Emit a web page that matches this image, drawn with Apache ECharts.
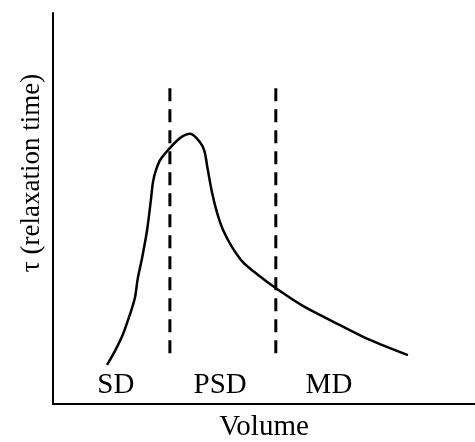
<!DOCTYPE html>
<html>
<head>
<meta charset="utf-8">
<style>
  html, body { margin: 0; padding: 0; background: #fff; }
  #chart { width: 475px; height: 442px; }
</style>
<script src="https://cdn.jsdelivr.net/npm/echarts@6/dist/echarts.min.js"></script>
</head>
<body>
<div id="chart"></div>
<script>
// Relaxation time vs. volume curve (arbitrary units, 0–100 on both axes)
const curveX = [12.8, 14.7, 16.6, 18.2, 19.4, 20.1, 21.1, 22.3, 23.2, 23.7, 24.4, 25.4, 27.3, 30.1, 32.5, 34.8, 35.9, 36.6, 37.7, 38.9, 40.3, 42.4, 45.0, 48.6, 53.1, 59.2, 68.0, 75.1, 84.1];
const curveY = [10.0, 13.6, 17.9, 22.8, 27.1, 32.2, 37.3, 44.5, 52.2, 56.8, 59.8, 62.4, 65.0, 68.0, 69.1, 67.0, 64.6, 60.4, 54.0, 48.8, 44.5, 40.2, 36.3, 33.0, 29.4, 25.1, 20.2, 16.4, 12.5];

// Region boundaries (volume) and vertical extent of the dashed separators
const boundaryX = [27.7, 52.8];
const boundaryY = [13.0, 80.8];

// Region names and where they sit along the volume axis
const regionNames = ['SD', 'PSD', 'MD'];
const regionX = [14.9, 39.6, 65.4];
const regionY = [4.8, 4.8, 4.8];

const axisNames = { x: 'Volume', y: 'τ (relaxation time)' };

const serif = '"Liberation Serif", "DejaVu Serif", serif';

const curveData = curveX.map((x, i) => [x, curveY[i]]);

const boundarySeries = boundaryX.map(x => ({
  type: 'line',
  data: [[x, boundaryY[0]], [x, boundaryY[1]]],
  symbol: 'none',
  silent: true,
  lineStyle: { color: '#000', width: 3, type: [13, 8] }
}));

const chart = echarts.init(document.getElementById('chart'), null, { renderer: 'canvas' });

chart.setOption({
  animation: false,
  backgroundColor: '#fff',
  grid: { left: 53, right: 0, top: 13, bottom: 38, containLabel: false, outerBoundsMode: 'none' },
  xAxis: {
    type: 'value', min: 0, max: 100,
    axisLine: { lineStyle: { color: '#000', width: 2 } },
    axisTick: { show: false }, axisLabel: { show: false }, splitLine: { show: false },
    name: axisNames.x, nameLocation: 'middle', nameGap: 9,
    nameTextStyle: { fontFamily: serif, fontSize: 29, color: '#000', verticalAlign: 'top' }
  },
  yAxis: {
    type: 'value', min: 0, max: 100,
    axisLine: { lineStyle: { color: '#000', width: 2 } },
    axisTick: { show: false }, axisLabel: { show: false }, splitLine: { show: false }
  },
  graphic: [{
    type: 'text',
    x: 32, y: 173,
    rotation: Math.PI / 2,
    style: {
      text: axisNames.y,
      fontFamily: serif, fontSize: 27, fill: '#000',
      textAlign: 'center', textVerticalAlign: 'middle'
    }
  }],
  series: [
    {
      type: 'line',
      data: curveData,
      smooth: 0.3,
      symbol: 'none',
      lineStyle: { color: '#000', width: 2.5 }
    },
    ...boundarySeries,
    {
      type: 'scatter',
      data: regionX.map((x, i) => ({ value: [x, regionY[i]], name: regionNames[i] })),
      symbolSize: 0,
      itemStyle: { color: '#000', opacity: 1 },
      label: {
        show: true, position: 'inside',
        formatter: p => p.name,
        fontFamily: serif, fontSize: 29, color: '#000',
        textBorderWidth: 0
      }
    }
  ]
});
</script>
</body>
</html>
